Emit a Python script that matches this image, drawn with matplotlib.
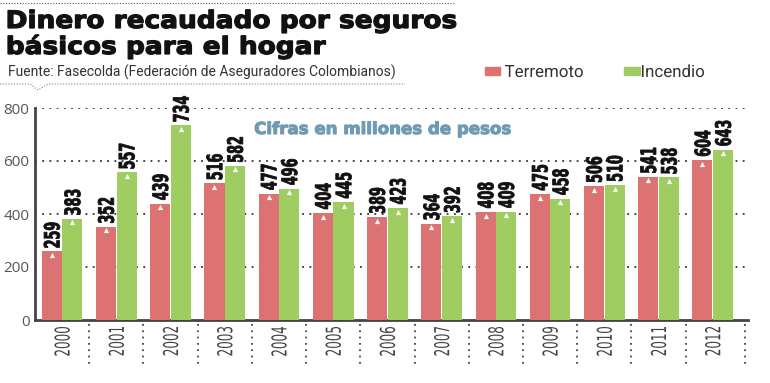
import matplotlib
matplotlib.use("Agg")
import matplotlib.pyplot as plt
import numpy as np
from matplotlib.textpath import TextPath
from matplotlib.font_manager import FontProperties
from matplotlib.patches import PathPatch
from matplotlib.transforms import Affine2D

# datos
anios = ["2000", "2001", "2002", "2003", "2004", "2005", "2006",
         "2007", "2008", "2009", "2010", "2011", "2012"]
terremoto = [259, 352, 439, 516, 477, 404, 389, 364, 408, 475, 506, 541, 604]
incendio = [383, 557, 734, 582, 496, 445, 423, 392, 409, 458, 510, 538, 643]
yticks = [0, 200, 400, 600, 800]

ROJO = "#dc7372"
VERDE = "#9fcd62"
W, H = 770, 383

fig = plt.figure(figsize=(7.7, 3.83), dpi=100)
ax = fig.add_axes([35 / W, 1 - 320 / H, (748 - 35) / W, (320 - 108) / H])


def texto_px(s, x, y, alto, estirar=1.0, rot=0, ha="left", va="baseline",
             weight="normal", family="DejaVu Sans", color="k", grosor=0.0):
    """texto como trazado, en pixeles (origen abajo a la izquierda),
    con alto de mayusculas fijo y estiramiento horizontal"""
    prop = FontProperties(family=family, weight=weight)
    tp = TextPath((0, 0), s, size=100, prop=prop)
    cap = TextPath((0, 0), "H", size=100, prop=prop).get_extents().y1
    ext = tp.get_extents()
    dx = {"left": -ext.x0, "center": -(ext.x0 + ext.x1) / 2, "right": -ext.x1}[ha]
    dy = {"baseline": 0, "center": -cap / 2, "bottom": -ext.y0, "top": -ext.y1}[va]
    k = alto / cap
    tr = Affine2D().translate(dx, dy).scale(k * estirar, k).rotate_deg(rot).translate(x, y)
    p = PathPatch(tr.transform_path(tp), facecolor=color, edgecolor=color,
                  lw=grosor, transform=None, clip_on=False, zorder=6)
    fig.add_artist(p)


x = np.arange(len(anios))
w = 0.37
off = 0.19
ax.bar(x - off, terremoto, w, color=ROJO, zorder=3)
ax.bar(x + off, incendio, w, color=VERDE, zorder=3)

# triangulitos blancos en la punta de cada barra
ax.scatter(x - off, np.array(terremoto) - 14, marker="^", s=14, color="white", zorder=4, lw=0)
ax.scatter(x + off, np.array(incendio) - 14, marker="^", s=14, color="white", zorder=4, lw=0)

ax.set_xlim(-0.5, 12.65)
ax.set_ylim(0, 800)
ax.set_yticks(yticks)
ax.set_yticklabels([str(v) for v in yticks], fontsize=11, color="#555555",
                   family="Open Sans")
ax.set_xticks([])
ax.tick_params(axis="y", length=0, pad=4)

for yv in yticks[1:]:
    ax.axhline(yv, color="#333333", ls=(0, (1, 3)), lw=1.3, zorder=1)

for s in ["top", "right"]:
    ax.spines[s].set_visible(False)
ax.spines["left"].set_color("#444444")
ax.spines["left"].set_linewidth(2)
ax.spines["bottom"].set_color("#444444")
ax.spines["bottom"].set_linewidth(2)

# etiquetas de valor, verticales y condensadas
for xi, t, i in zip(x, terremoto, incendio):
    for xx, v in ((xi - off, t), (xi + off, i)):
        px, py = ax.transData.transform((xx, v))
        texto_px(str(v), px, py + 4, 15.5, estirar=0.6, rot=90, ha="left",
                 va="center", weight="bold", color="#111111", grosor=0.6)

# años y separadores bajo el eje
for xi, a in zip(x, anios):
    px, _ = ax.transData.transform((xi, 0))
    texto_px(a, px, H - 327, 15, estirar=0.58, rot=90, ha="right", va="center",
             color="#444444")
for sx in list(np.arange(0.5, 12, 1.0)) + [12.6]:
    ax.plot([sx, sx], [-15, -170], color="#444444", ls=(0, (1, 2.5)), lw=1.3,
            clip_on=False)

texto_px("Cifras en millones de pesos", 255, H - 134, 12, estirar=1.01,
         weight="bold", color="#6f9ab3", grosor=0.8)

# título y fuente
texto_px("Dinero recaudado por seguros", 8, H - 28, 17.5, estirar=1.1,
         weight="bold", color="#111111", grosor=0.9)
texto_px("básicos para el hogar", 8, H - 54, 17.5, estirar=1.1,
         weight="bold", color="#111111", grosor=0.9)
fig.text(8 / W, 1 - 72 / H, "Fuente: Fasecolda (Federación de Aseguradores Colombianos)",
         ha="left", va="center", fontsize=10, family="Roboto", color="#333333")

fig.add_artist(plt.Line2D([0, 455 / W], [1 - 3 / H, 1 - 3 / H],
                          transform=fig.transFigure, color="#555555",
                          ls=(0, (1, 1.5)), lw=0.8))
fig.add_artist(plt.Line2D([0, 30 / W, 38 / W, 48 / W, 405 / W],
                          [1 - 84 / H, 1 - 84 / H, 1 - 90 / H, 1 - 84 / H, 1 - 84 / H],
                          transform=fig.transFigure, color="#888888",
                          ls=(0, (1, 1.5)), lw=0.8))

# leyenda
fig.patches.append(plt.Rectangle((485 / W, 1 - 75 / H), 15 / W, 8 / H,
                                 transform=fig.transFigure, color=ROJO))
texto_px("Terremoto", 505, H - 77, 12, family="Roboto", color="#333333")
fig.patches.append(plt.Rectangle((624 / W, 1 - 75 / H), 16 / W, 8 / H,
                                 transform=fig.transFigure, color=VERDE))
texto_px("Incendio", 642, H - 77, 12, family="Roboto", color="#333333")

fig.savefig("out.png", dpi=100)
